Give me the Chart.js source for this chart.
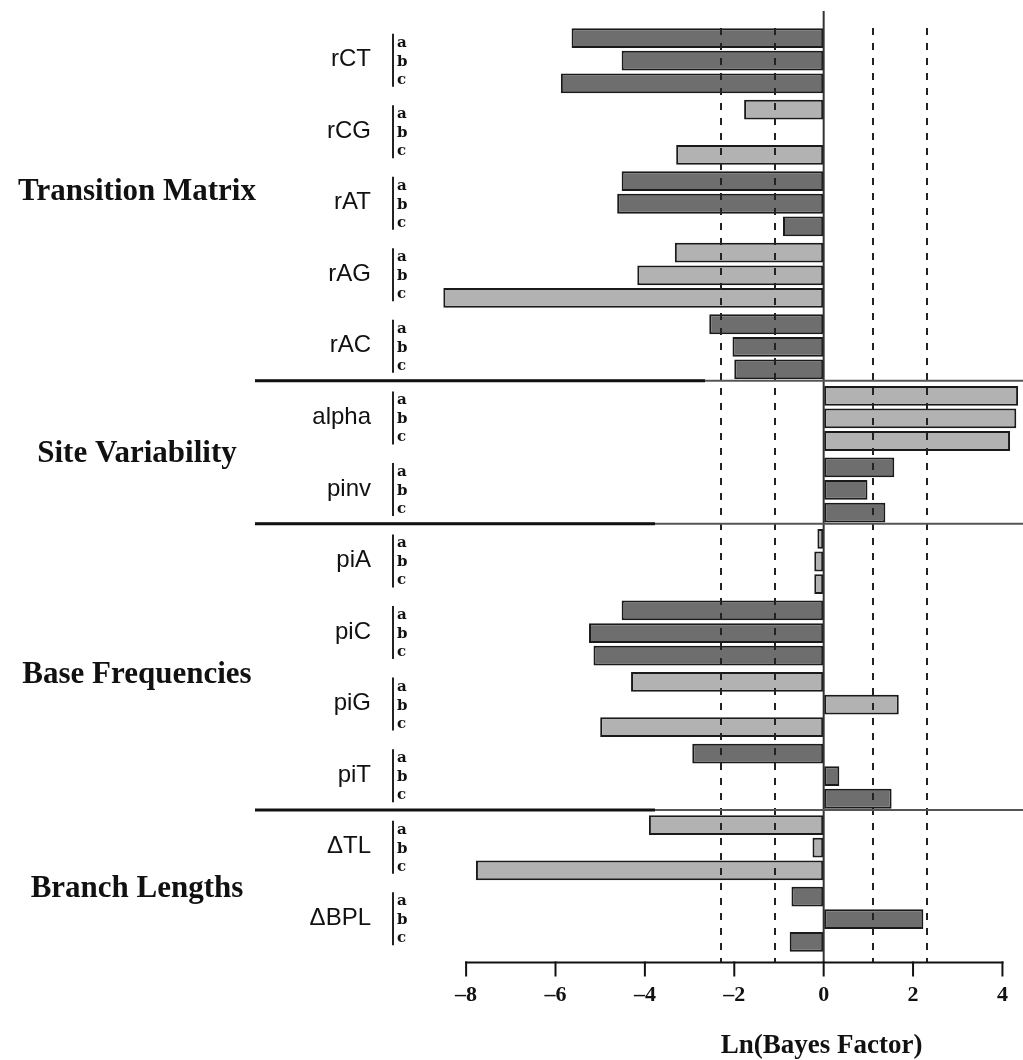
<!DOCTYPE html>
<html>
<head>
<meta charset="utf-8">
<script src="https://cdn.jsdelivr.net/npm/chart.js@4.4.1/dist/chart.umd.min.js"></script>
<style>
  html, body { margin: 0; padding: 0; background: #ffffff; }
  #wrap { width: 1023px; height: 1060px; position: relative; }
</style>
</head>
<body>
<div id="wrap"><canvas id="c"></canvas></div>
<script>
// ---------- data ----------
const categories = ['rCT', 'rCG', 'rAT', 'rAG', 'rAC', 'alpha', 'pinv', 'piA', 'piC', 'piG', 'piT', 'ΔTL', 'ΔBPL'];
const seriesA = [-5.64, -1.78, -4.52, -3.33, -2.56, 4.35, 1.58, -0.14, -4.52, -4.31, -2.94, -3.91, -0.72];
const seriesB = [-4.52, null, -4.62, -4.17, -2.04, 4.31, 0.98, -0.21, -5.25, 1.68, 0.35, -0.25, 2.23];
const seriesC = [-5.88, -3.30, -0.91, -8.51, -2.00, 4.17, 1.38, -0.21, -5.15, -5.00, 1.52, -7.78, -0.76];
const replicateLabels = ['a', 'b', 'c'];
const sectionNames = ['Transition Matrix', 'Site Variability', 'Base Frequencies', 'Branch Lengths'];
const sectionFirst = [0, 5, 7, 11];
const sectionLast = [4, 6, 10, 12];
const xTickValues = [-8, -6, -4, -2, 0, 2, 4];
const thresholdValues = [-2.303, -1.099, 1.099, 2.303];
const axisTitle = 'Ln(Bayes Factor)';

// ---------- styles ----------
const DARK = '#6e6e6e';
const LIGHT = '#b2b2b2';
const BORDER = '#1a1a1a';
const fills = categories.map((_, i) => (i % 2 === 0 ? DARK : LIGHT));

function makeDataset(label, values) {
  return {
    label: label,
    data: values,
    backgroundColor: fills,
    borderColor: BORDER,
    borderWidth: 2,
    borderSkipped: false,
    categoryPercentage: 0.948,
    barPercentage: 0.875
  };
}

const overlay = {
  id: 'overlay',
  afterDatasetsDraw(chart) {
    const ctx = chart.ctx;
    const xs = chart.scales.x;
    const ys = chart.scales.y;
    const area = chart.chartArea;
    const axisY = area.bottom + 7.5;

    ctx.save();
    // dashed threshold lines
    ctx.strokeStyle = '#222';
    ctx.lineWidth = 2;
    ctx.setLineDash([7, 8]);
    thresholdValues.forEach(v => {
      const px = Math.round(xs.getPixelForValue(v));
      ctx.beginPath();
      ctx.moveTo(px, area.top + 3);
      ctx.lineTo(px, axisY);
      ctx.stroke();
    });
    ctx.setLineDash([]);

    // zero line
    const x0 = xs.getPixelForValue(0);
    ctx.strokeStyle = '#333';
    ctx.lineWidth = 2;
    ctx.beginPath();
    ctx.moveTo(x0, area.top - 14);
    ctx.lineTo(x0, axisY);
    ctx.stroke();

    // section separators
    for (let s = 0; s < sectionLast.length - 1; s++) {
      const k = sectionLast[s];
      const yy = (ys.getPixelForValue(k) + ys.getPixelForValue(k + 1)) / 2 - 2;
      ctx.strokeStyle = '#555';
      ctx.lineWidth = 2;
      ctx.beginPath();
      ctx.moveTo(255, yy);
      ctx.lineTo(1023, yy);
      ctx.stroke();
      ctx.strokeStyle = '#111';
      ctx.lineWidth = 3;
      ctx.beginPath();
      ctx.moveTo(255, yy);
      ctx.lineTo(s === 0 ? 705 : 655, yy);
      ctx.stroke();
    }

    // x axis line and tick marks
    ctx.strokeStyle = '#111';
    ctx.lineWidth = 2;
    const xl = xs.getPixelForValue(xTickValues[0]);
    const xr = xs.getPixelForValue(xTickValues[xTickValues.length - 1]);
    ctx.beginPath();
    ctx.moveTo(xl - 1, axisY);
    ctx.lineTo(xr + 1, axisY);
    ctx.stroke();
    xTickValues.forEach(v => {
      const px = xs.getPixelForValue(v);
      ctx.beginPath();
      ctx.moveTo(px, axisY - 1);
      ctx.lineTo(px, axisY + 14);
      ctx.stroke();
    });

    // axis title
    ctx.fillStyle = '#111';
    ctx.font = 'bold 27px "Liberation Serif", serif';
    ctx.textAlign = 'center';
    ctx.textBaseline = 'middle';
    ctx.fillText(axisTitle, x0 - 2, 1046);

    // parameter labels and a/b/c brackets
    categories.forEach((name, i) => {
      const cy = ys.getPixelForValue(i);
      ctx.fillStyle = '#111';
      ctx.font = '24px "Liberation Sans", Arial, sans-serif';
      ctx.textAlign = 'right';
      ctx.textBaseline = 'middle';
      ctx.fillText(name, 371, cy - 1);

      ctx.strokeStyle = '#222';
      ctx.lineWidth = 2;
      ctx.beginPath();
      ctx.moveTo(393, cy - 27);
      ctx.lineTo(393, cy + 26);
      ctx.stroke();

      ctx.font = 'bold 15px "DejaVu Serif", serif';
      ctx.textAlign = 'left';
      ctx.textBaseline = 'alphabetic';
      const offs = [-14, 5, 23];
      replicateLabels.forEach((r, j) => {
        ctx.fillText(r, 397, cy + offs[j]);
      });
    });

    // section labels
    ctx.fillStyle = '#111';
    ctx.font = 'bold 31px "Liberation Serif", serif';
    ctx.textAlign = 'center';
    ctx.textBaseline = 'middle';
    sectionNames.forEach((name, s) => {
      const cy = ys.getPixelForValue((sectionFirst[s] + sectionLast[s]) / 2);
      const nudge = s === 0 ? -12 : (s === 1 ? 0 : 6);
      ctx.fillText(name, 137, cy + nudge);
    });
    ctx.restore();
  }
};

new Chart(document.getElementById('c'), {
  type: 'bar',
  data: {
    labels: categories,
    datasets: [
      makeDataset(replicateLabels[0], seriesA),
      makeDataset(replicateLabels[1], seriesB),
      makeDataset(replicateLabels[2], seriesC)
    ]
  },
  options: {
    indexAxis: 'y',
    responsive: true,
    maintainAspectRatio: false,
    animation: false,
    devicePixelRatio: 1,
    layout: { padding: { left: 439.3, right: 0, top: 24.9, bottom: 0 } },
    plugins: {
      legend: { display: false },
      tooltip: { enabled: false }
    },
    scales: {
      y: {
        type: 'category',
        display: false,
        offset: true,
        grid: { display: false }
      },
      x: {
        type: 'linear',
        min: -8.6,
        max: 4.46,
        border: { display: false },
        grid: { display: true, drawOnChartArea: false, drawTicks: true, tickLength: 24, color: 'rgba(0,0,0,0)' },
        afterBuildTicks: scale => { scale.ticks = xTickValues.map(v => ({ value: v })); },
        afterFit: scale => { scale.height = 105; },
        ticks: {
          padding: 3,
          color: '#111',
          font: { family: '"Liberation Serif", serif', size: 22, weight: 'bold' },
          callback: v => (v < 0 ? '\u2013' + Math.abs(v) : String(v))
        }
      }
    }
  },
  plugins: [overlay]
});
</script>
</body>
</html>
